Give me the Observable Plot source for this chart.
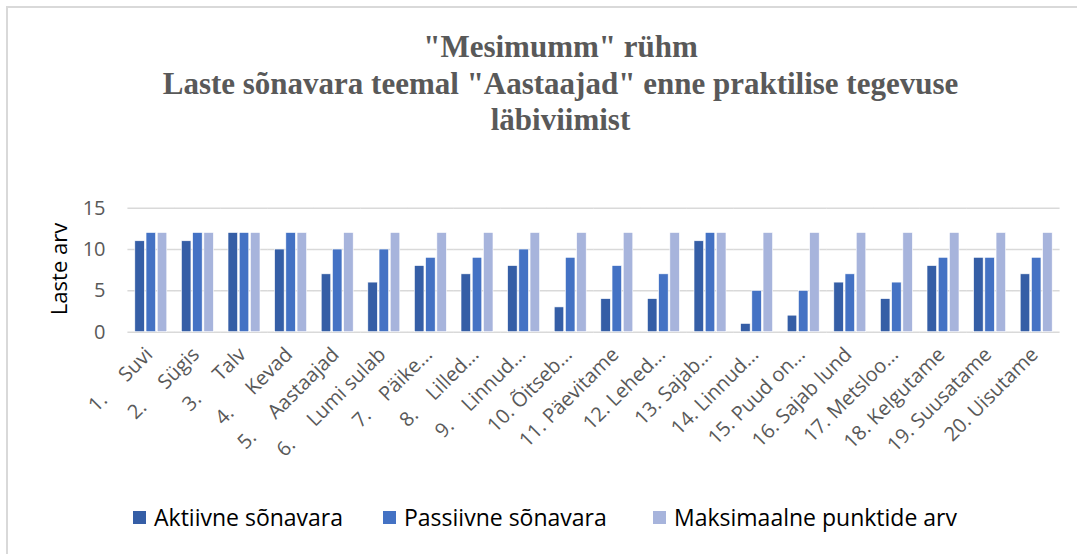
<!DOCTYPE html>
<html>
<head>
<meta charset="utf-8">
<script src="https://cdn.jsdelivr.net/npm/d3@7"></script>
<script src="https://cdn.jsdelivr.net/npm/@observablehq/plot@0.6"></script>
<style>
  html, body { margin: 0; padding: 0; background: #fff; }
  #wrap { position: relative; width: 1077px; height: 554px; overflow: hidden; background: #fff; }
  #frame { position: absolute; left: 6px; top: 6px; width: 1080px; height: 560px; border-left: 2px solid #d9d9d9; border-top: 2px solid #d9d9d9; box-sizing: border-box; }
  #title { position: absolute; left: 22px; top: 29px; width: 1077px; text-align: center; font-family: "Liberation Serif", "Times New Roman", serif; font-weight: bold; font-size: 31px; line-height: 36.5px; color: #595959; }
  #chart { position: absolute; left: 0; top: 190px; }
  #ylabel { position: absolute; left: 58px; top: 269px; transform: translate(-50%, -50%) rotate(-90deg); font-family: "Open Sans", sans-serif; font-size: 22px; color: #000; white-space: nowrap; }
  .leg { position: absolute; top: 502px; display: flex; align-items: center; font-family: "Open Sans", sans-serif; font-size: 23px; color: #000; white-space: nowrap; height: 30px; }
  .sw { width: 13px; height: 13px; margin-right: 8px; }
</style>
</head>
<body>
<div id="wrap">
  <div id="frame"></div>
  <div id="title">"Mesimumm" rühm<br>Laste sõnavara teemal "Aastaajad" enne praktilise tegevuse<br>läbiviimist</div>
  <div id="chart"></div>
  <div id="ylabel">Laste arv</div>
  <div id="legend"></div>
</div>
<script>
const categories = [
  "1.\u00a0\u00a0\u00a0\u00a0 Suvi",
  "2.\u00a0\u00a0\u00a0\u00a0 Sügis",
  "3.\u00a0\u00a0\u00a0\u00a0 Talv",
  "4.\u00a0\u00a0\u00a0\u00a0 Kevad",
  "5.\u00a0\u00a0\u00a0\u00a0 Aastaajad",
  "6.\u00a0\u00a0\u00a0\u00a0 Lumi sulab",
  "7.\u00a0\u00a0\u00a0 Päike...",
  "8.\u00a0\u00a0\u00a0 Lilled...",
  "9.\u00a0\u00a0\u00a0 Linnud...",
  "10. Õitseb...",
  "11. Päevitame",
  "12. Lehed...",
  "13. Sajab...",
  "14. Linnud...",
  "15. Puud on...",
  "16. Sajab lund",
  "17. Metsloo...",
  "18. Kelgutame",
  "19. Suusatame",
  "20. Uisutame"
];
const seriesNames = ["Aktiivne sõnavara", "Passiivne sõnavara", "Maksimaalne punktide arv"];
const seriesColors = ["#355ea6", "#4472c4", "#a7b4dc"];
const aktiivne = [11, 11, 12, 10, 7, 6, 8, 7, 8, 3, 4, 4, 11, 1, 2, 6, 4, 8, 9, 7];
const passiivne = [12, 12, 12, 12, 10, 10, 9, 9, 10, 9, 8, 7, 12, 5, 5, 7, 6, 9, 9, 9];
const maksimaalne = [12, 12, 12, 12, 12, 12, 12, 12, 12, 12, 12, 12, 12, 12, 12, 12, 12, 12, 12, 12];
const yTicks = [0, 5, 10, 15];

const seriesValues = [aktiivne, passiivne, maksimaalne];
const rows = [];
categories.forEach((c, i) => {
  seriesNames.forEach((s, j) => rows.push({cat: c, series: s, value: seriesValues[j][i]}));
});

const chart = Plot.plot({
  width: 1077,
  height: 310,
  marginTop: 17.7,
  marginBottom: 168.3,
  marginLeft: 127.5,
  marginRight: 17.5,
  style: {fontFamily: "Open Sans, sans-serif", fontSize: "20px", color: "#595959", background: "transparent", overflow: "visible"},
  fx: {domain: categories, paddingInner: 0.314, paddingOuter: 0.157, round: false, axis: null, label: null},
  x: {domain: seriesNames, paddingInner: 0.15, paddingOuter: 0, round: false, axis: null},
  y: {domain: [0, 15], ticks: yTicks, tickSize: 0, tickPadding: 29.8, label: null},
  color: {domain: seriesNames, range: seriesColors},
  marks: [
    Plot.ruleY(yTicks, {stroke: "#d9d9d9", strokeWidth: 1.5, insetLeft: -7.4, insetRight: -7.4}),
    Plot.barY(rows, {fx: "cat", x: "series", y: "value", fill: "series", stroke: "#ffffff", strokeWidth: 0.6}),
    Plot.axisFx({anchor: "bottom", tickRotate: -45, tickSize: 0, tickPadding: 19, dx: -2, fontSize: 20, label: null})
  ]
});
document.getElementById("chart").appendChild(chart);

const legendX = [133, 383, 653];
const legend = document.getElementById("legend");
seriesNames.forEach((s, i) => {
  const item = document.createElement("div");
  item.className = "leg";
  item.style.left = legendX[i] + "px";
  const sw = document.createElement("span");
  sw.className = "sw";
  sw.style.background = seriesColors[i];
  const t = document.createElement("span");
  t.textContent = s;
  item.appendChild(sw);
  item.appendChild(t);
  legend.appendChild(item);
});
</script>
</body>
</html>
